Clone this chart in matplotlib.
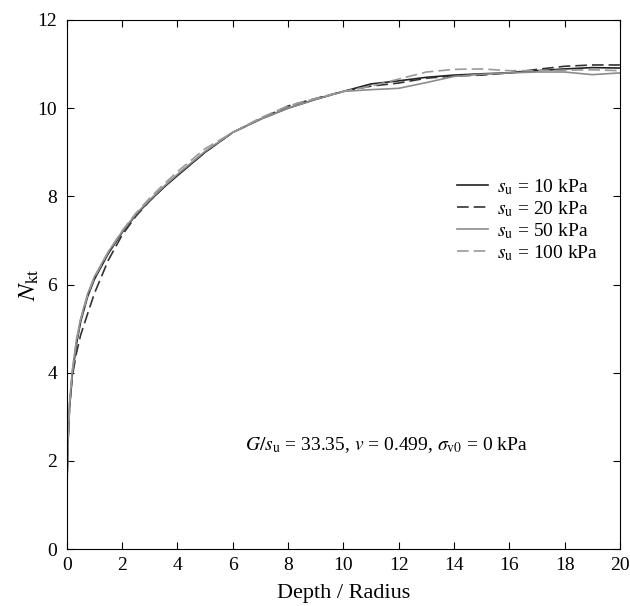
import matplotlib
matplotlib.use('Agg')
import matplotlib.pyplot as plt

plt.rcParams.update({'font.family': 'Liberation Serif', 'mathtext.fontset': 'stix',
                     'font.size': 14})

# depth / radius sample points
depth = [0, 0.02, 0.05, 0.1, 0.2, 0.35, 0.5, 0.75, 1.0, 1.5, 2, 2.5, 3, 3.5, 4,
         5, 6, 7, 8, 9, 10, 11, 12, 13, 14, 15, 16, 17, 18, 19, 20]

nkt_10 = [1.0, 1.85, 2.5, 3.2, 3.95, 4.65, 5.15, 5.72, 6.12, 6.7, 7.18, 7.58, 7.9, 8.2, 8.47,
          9.0, 9.45, 9.75, 10.0, 10.2, 10.38, 10.55, 10.62, 10.7, 10.75, 10.78, 10.8,
          10.85, 10.89, 10.92, 10.91]
nkt_20 = [1.0, 1.8, 2.5, 3.25, 3.92, 4.45, 4.85, 5.33, 5.8, 6.55, 7.12, 7.55, 7.9, 8.2, 8.48,
          9.0, 9.45, 9.75, 10.05, 10.22, 10.38, 10.5, 10.57, 10.68, 10.73, 10.75, 10.8,
          10.88, 10.95, 10.98, 10.98]
nkt_50 = [1.0, 1.9, 2.6, 3.3, 4.05, 4.75, 5.22, 5.78, 6.18, 6.74, 7.2, 7.6, 7.92, 8.22, 8.5,
          9.02, 9.45, 9.75, 10.0, 10.2, 10.38, 10.42, 10.45, 10.58, 10.72, 10.77, 10.8,
          10.82, 10.82, 10.76, 10.8]
nkt_100 = [1.0, 1.9, 2.6, 3.3, 4.02, 4.72, 5.2, 5.76, 6.16, 6.74, 7.22, 7.62, 7.96, 8.27, 8.56,
           9.08, 9.45, 9.78, 10.05, 10.22, 10.38, 10.5, 10.66, 10.82, 10.88, 10.89, 10.85,
           10.85, 10.86, 10.87, 10.85]

labels = [r'$s_{\mathrm{u}}$ = 10 kPa', r'$s_{\mathrm{u}}$ = 20 kPa',
          r'$s_{\mathrm{u}}$ = 50 kPa', r'$s_{\mathrm{u}}$ = 100 kPa']

fig = plt.figure(figsize=(6.3, 6.06), dpi=100)
ax = fig.add_axes([0.106, 0.094, 0.878, 0.873])

ax.plot(depth, nkt_10, '-', color='#222222', lw=1.2, label=labels[0])
ax.plot(depth, nkt_20, '--', color='#333333', lw=1.2, dashes=(7, 3), label=labels[1])
ax.plot(depth, nkt_50, '-', color='#8c8c8c', lw=1.2, label=labels[2])
ax.plot(depth, nkt_100, '--', color='#9a9a9a', lw=1.2, dashes=(7, 3), label=labels[3])

ax.set_xlim(0, 20)
ax.set_ylim(0, 12)
ax.set_xticks(range(0, 21, 2))
ax.set_yticks(range(0, 13, 2))
ax.tick_params(direction='in', top=True, right=True, length=5, labelsize=14)
ax.tick_params(axis='x', pad=6)
ax.tick_params(axis='y', pad=7)
ax.set_xlabel('Depth / Radius', fontsize=16, labelpad=7)
ax.set_ylabel(r'$N_{\mathrm{kt}}$', fontsize=18, labelpad=-3)

ax.text(6.45, 2.25, r'$G/s_{\mathrm{u}}$ = 33.35, $v$ = 0.499, $\sigma_{\mathrm{v0}}$ = 0 kPa',
        fontsize=14)

ax.legend(loc='upper left', bbox_to_anchor=(0.673, 0.736), frameon=False, fontsize=14,
          handlelength=1.6, handletextpad=0.5, labelspacing=0.12)

plt.savefig('out.png', dpi=100)
